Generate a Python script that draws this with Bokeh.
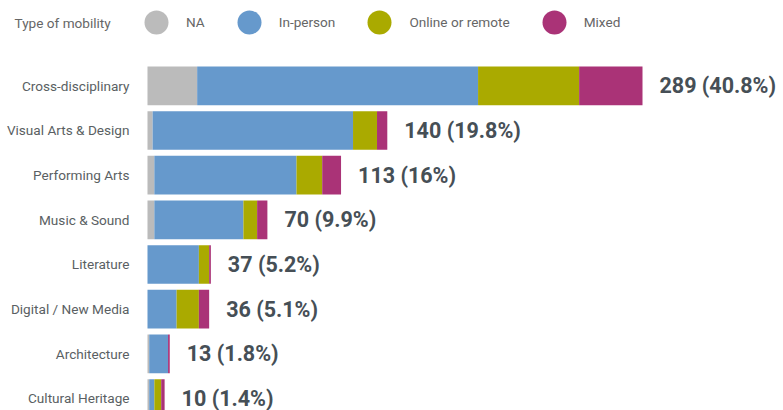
import numpy as np
from bokeh.plotting import figure
from bokeh.models import ColumnDataSource, Range1d, Legend, LegendItem, Label
from bokeh.core.properties import value
from bokeh.embed import file_html
from bokeh.resources import INLINE

categories = ["Cross-disciplinary", "Visual Arts & Design", "Performing Arts", "Music & Sound",
              "Literature", "Digital / New Media", "Architecture", "Cultural Heritage"]
na = [29, 3, 4, 4, 0, 0, 1, 1]
in_person = [164, 117, 83, 52, 30, 17, 11, 3]
online = [59, 14, 15, 8, 6, 13, 0, 4]
mixed = [37, 6, 11, 6, 1, 6, 1, 2]
totals = [289, 140, 113, 70, 37, 36, 13, 10]
value_labels = ["289 (40.8%)", "140 (19.8%)", "113 (16%)", "70 (9.9%)", "37 (5.2%)",
                "36 (5.1%)", "13 (1.8%)", "10 (1.4%)"]
series_names = ["NA", "In-person", "Online or remote", "Mixed"]
series_keys = ["na", "in_person", "online", "mixed"]
colors = ["#bbbbbb", "#6699cc", "#aaaa00", "#aa3377"]
legend_title = "Type of mobility"

source = ColumnDataSource(dict(
    y=list(range(len(categories))),
    cat=categories,
    na=na, in_person=in_person, online=online, mixed=mixed,
    total=totals, lab=value_labels,
))

p = figure(width=783, height=410, x_range=Range1d(-85.82, 371.32), y_range=Range1d(7.269, -1.910),
           x_axis_location=None, y_axis_location=None, toolbar_location=None,
           output_backend="svg", min_border=0, outline_line_color=None)
p.xgrid.visible = False
p.ygrid.visible = False

p.hbar_stack(series_keys, y="y", height=0.866, color=colors, line_color=None, source=source)

p.text(x=0, y="y", text="cat", source=source, x_offset=-18, text_align="right",
       text_baseline="middle", text_font=value("Roboto"), text_font_size="13.6px",
       text_color="#5a5f63")
p.text(x="total", y="y", text="lab", source=source, x_offset=17, text_align="left",
       text_baseline="middle", text_font=value("Roboto"), text_font_style="bold",
       text_font_size="21.5px", text_color="#464f56")

dummies = [p.scatter(x=np.array([np.nan]), y=np.array([np.nan]), size=24, color=c, line_color=None)
           for c in colors]
legend = Legend(items=[LegendItem(label=n, renderers=[r]) for n, r in zip(series_names, dummies)],
                orientation="horizontal", location=(126, 358), glyph_width=60, glyph_height=60,
                label_standoff=0, spacing=14, padding=0, margin=0, label_width=0, label_height=0,
                background_fill_alpha=0, border_line_alpha=0,
                label_text_font="Roboto", label_text_font_size="13.6px", label_text_color="#666666")
p.add_layout(legend)

p.add_layout(Label(x=14, y=388, x_units="screen", y_units="screen", text=legend_title,
                   text_baseline="middle", text_font="Roboto", text_font_size="13.6px",
                   text_color="#666666"))

open("out.html", "w").write(file_html(p, INLINE))
